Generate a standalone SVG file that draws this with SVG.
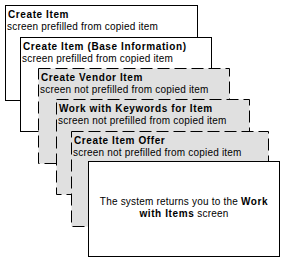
<svg xmlns="http://www.w3.org/2000/svg" width="285" height="262" viewBox="0 0 285 262">
<style>
.solid{fill:#ffffff;stroke:#000000;stroke-width:1}
.dash{fill:#e0e0e0;stroke:#000000;stroke-width:1;stroke-dasharray:12 5}
text{font-family:"Liberation Sans",Arial,sans-serif;font-size:10px;fill:#000000}
.t{font-weight:bold;letter-spacing:0.6px}
.s{letter-spacing:0.2px}
</style>
<rect width="285" height="262" fill="#ffffff"/>
<g id="connectors"/>
<g id="node1">
<rect class="solid" x="5.5" y="5.5" width="192" height="95"/>
<text class="t" x="8" y="18">Create Item</text>
<text class="s" x="7" y="30">screen prefilled from copied item</text>
</g>
<g id="node2">
<rect class="solid" x="20.5" y="37.5" width="191" height="94"/>
<text class="t" x="23" y="50">Create Item (Base Information)</text>
<text class="s" x="22" y="62">screen prefilled from copied item</text>
</g>
<g id="node3">
<rect class="dash" x="38.5" y="68.5" width="191" height="95"/>
<text class="t" x="41" y="81">Create Vendor Item</text>
<text class="s" x="40" y="93">screen not prefilled from copied item</text>
</g>
<g id="node4">
<rect class="dash" x="56.5" y="99.5" width="193" height="95"/>
<text class="t" x="59" y="112">Work with Keywords for Item</text>
<text class="s" x="58" y="124">screen not prefilled from copied item</text>
</g>
<g id="node5">
<rect class="dash" x="71.5" y="131.5" width="197" height="95"/>
<text class="t" x="74" y="144">Create Item Offer</text>
<text class="s" x="73" y="156">screen not prefilled from copied item</text>
</g>
<g id="node6">
<rect class="solid" x="88.5" y="161.5" width="191" height="95"/>
<text class="s" x="184" y="205" text-anchor="middle">The system returns you to the <tspan class="t">Work</tspan></text>
<text class="s" x="184" y="217" text-anchor="middle"><tspan class="t">with Items</tspan> screen</text>
</g>
</svg>
